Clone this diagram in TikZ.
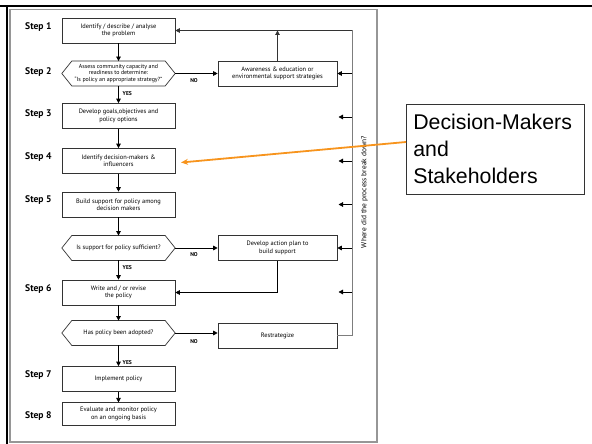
\documentclass[tikz,border=0pt]{standalone}
\usepackage{fontspec}
\setmainfont{PT Sans}
\newfontfamily\calloutfont{Liberation Sans}
\usetikzlibrary{arrows.meta,calc}

\definecolor{callorange}{RGB}{247,148,29}
\definecolor{framegray}{RGB}{150,150,150}
\definecolor{fbgray}{RGB}{125,125,125}

\tikzset{
  boxtext/.style={font=\fontsize{6.4}{7.3}\selectfont, align=center, inner sep=1pt},
  stepbox/.style={boxtext, draw=black!80, line width=0.7pt,
    minimum width=113pt, minimum height=25pt},
  sidebox/.style={stepbox, minimum width=119pt},
  decision/.style={boxtext, minimum width=113pt, minimum height=24.5pt},
  hexline/.style={draw=black!80, line width=0.7pt},
  steplabel/.style={anchor=west, inner sep=0pt, font=\bfseries\fontsize{9.6}{11}\selectfont},
  answer/.style={inner sep=0pt, font=\bfseries\fontsize{5.6}{6.5}\selectfont},
  flow/.style={-{Triangle[length=4.5pt,width=4.6pt]}, line width=0.8pt, draw=black},
  fbline/.style={line width=0.9pt, draw=fbgray},
  callout/.style={draw=black!80, line width=0.7pt, align=left, anchor=north west,
    inner xsep=7pt, inner ysep=0pt, text width=164pt, minimum height=90pt,
    font=\calloutfont\fontsize{21.3}{27}\selectfont},
}

\begin{document}
\begin{tikzpicture}[x=1pt,y=-1pt]
\useasboundingbox (0,0) rectangle (592,444);

% outer rules and frame
\draw[line width=2.6pt] (0,6) -- (592,6);
\draw[line width=2.6pt] (7,6) -- (7,444);
\draw[framegray, line width=1.3pt] (10,9.5) rectangle (377,442);

% step labels
\node[steplabel] (l1) at (25,27)  {Step 1};
\node[steplabel] (l2) at (25,72)  {Step 2};
\node[steplabel] (l3) at (25,114) {Step 3};
\node[steplabel] (l4) at (25,157) {Step 4};
\node[steplabel] (l5) at (25,200) {Step 5};
\node[steplabel] (l6) at (25,289) {Step 6};
\node[steplabel] (l7) at (25,375) {Step 7};
\node[steplabel] (l8) at (25,416) {Step 8};

% main column
\node[stepbox] (s1) at (118.5,30.5) {Identify / describe / analyse\\the problem};
\node[decision, font=\fontsize{5.9}{6.9}\selectfont] (d2) at (118.5,73.5) {Assess community capacity and\\readiness to determine:\\``Is policy an appropriate strategy?''};
\node[stepbox] (s3) at (118.5,116) {Develop goals,objectives and\\policy options};
\node[stepbox] (s4) at (118.5,161) {Identify decision-makers \&\\influencers};
\node[stepbox] (s5) at (118.5,204.5) {Build support for policy among\\decision makers};
\node[decision] (d5) at (118.5,248) {Is support for policy sufficient?};
\node[stepbox] (s6) at (118.5,292.5) {Write and / or revise\\the policy};
\node[decision] (d6) at (118.5,333) {Has policy been adopted?};
\node[stepbox] (s7) at (118.5,379) {Implement policy};
\node[stepbox, minimum height=22.5pt] (s8) at (118.5,414) {Evaluate and monitor policy\\on an ongoing basis};

% decision outlines
\foreach \d in {d2,d5,d6}{
  \draw[hexline] (\d.west) -- ([xshift=10pt]\d.north west) -- ([xshift=-10pt]\d.north east)
    -- (\d.east) -- ([xshift=-10pt]\d.south east) -- ([xshift=10pt]\d.south west) -- cycle;
}

% side column
\node[sidebox] (aw) at (277.5,73.5) {Awareness \& education or\\environmental support strategies};
\node[sidebox] (ap) at (277.5,248) {Develop action plan to\\build support};
\node[sidebox] (rs) at (277.5,335.5) {Restrategize};

% main flow
\draw[flow] (s1) -- (d2);
\draw[flow] (d2) -- (s3);
\draw[flow] (s3) -- (s4);
\draw[flow] (s4) -- (s5);
\draw[flow] (s5) -- (d5);
\draw[flow] (d5) -- (s6);
\draw[flow] (s6) -- (d6);
\draw[flow] (d6) -- (s7);
\draw[flow] (s7) -- (s8);

\node[answer, anchor=west] (y2) at (122.5,94)  {YES};
\node[answer, anchor=west] (y5) at (122.5,268) {YES};
\node[answer, anchor=west] (y6) at (122.5,363) {YES};

% NO branches
\draw[flow] (d2.east) -- (aw.west);
\draw[flow] (d5.east) -- (d5.east -| ap.west);
\draw[flow] (d6.east) -- (d6.east -| rs.west);
\node[answer] (n2) at (194,81)  {NO};
\node[answer] (n5) at (194,254.5) {NO};
\node[answer] (n6) at (194,342) {NO};

% back to the main column
\draw[flow] (ap.south) |- (s6.east);
\draw[flow, draw=black!80] (aw.north) -- (aw.north |- s1.east);

% feedback rail
\coordinate (fbtop) at (352,30.5);
\coordinate (fbbot) at (352,335.5);
\draw[fbline] (rs.east) -- (fbbot) -- (fbtop);
\draw[flow, draw=black!80] (fbtop) -- (s1.east);

\draw[flow] (fbtop |- aw.east) -- (aw.east);
\coordinate (r3) at (352,117);   \coordinate (r3e) at (338.5,117);
\coordinate (r4) at (352,161);   \coordinate (r4e) at (338.5,161);
\coordinate (r5) at (352,204.5); \coordinate (r5e) at (338.5,204.5);
\coordinate (r6) at (352,292);   \coordinate (r6e) at (338.5,292);
\draw[flow] (r3) -- (r3e);
\draw[flow] (r4) -- (r4e);
\draw[flow] (r5) -- (r5e);
\draw[flow] (fbtop |- ap.east) -- (ap.east);
\draw[flow] (r6) -- (r6e);

\node[rotate=90, inner sep=0pt, font=\fontsize{7.4}{8}\selectfont] (why) at (364.5,192)
  {Where did the process break down?};

% callout
\node[callout] (cb) at (406,104) {Decision-Makers\\and\\Stakeholders};
\coordinate (cbout) at (406,142);
\coordinate (s4in) at (181,162.5);
\draw[callorange, line width=1.8pt, -{Stealth[length=7pt,width=6pt]}] (cbout) -- (s4in);
\end{tikzpicture}
\end{document}
